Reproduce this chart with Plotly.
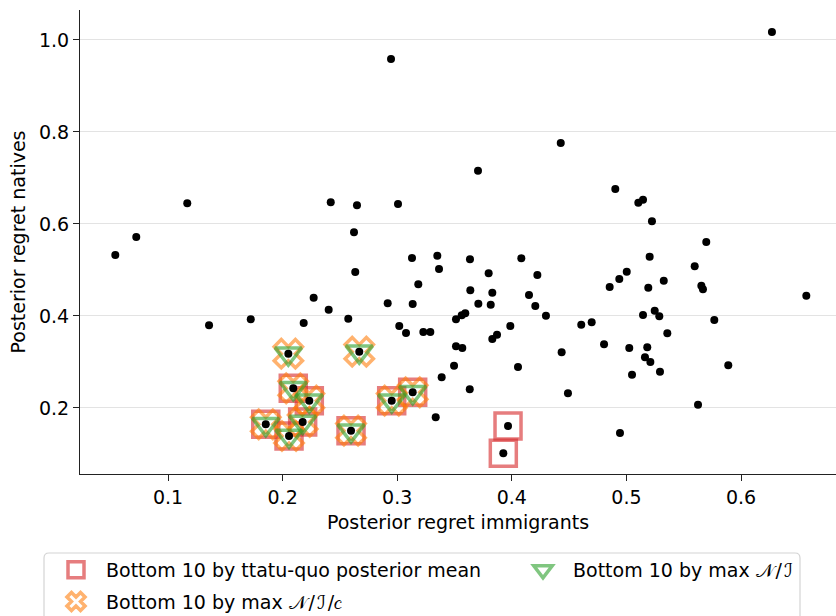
import plotly.graph_objects as go

# All countries: posterior regret for immigrants (x) and natives (y)
x_all = [
    0.0540, 0.0723, 0.1168, 0.1358, 0.1722, 0.2420, 0.2649, 0.3007, 0.2623, 0.3129,
    0.3350, 0.3365, 0.3635, 0.2634, 0.3184, 0.3638, 0.2271, 0.2402, 0.2917, 0.3135,
    0.3708, 0.2184, 0.2573, 0.3018, 0.3077, 0.3228, 0.3289, 0.3513, 0.3563, 0.3594,
    0.3513, 0.3568, 0.3496, 0.3388, 0.3633, 0.3336, 0.6270, 0.2946, 0.4427, 0.3705,
    0.4903, 0.5104, 0.5145, 0.5223, 0.4083, 0.5203, 0.3798, 0.4223, 0.5003, 0.4938,
    0.4854, 0.5191, 0.3830, 0.4150, 0.3816, 0.4205, 0.4298, 0.5145, 0.5247, 0.5287,
    0.3987, 0.3871, 0.3830, 0.4606, 0.4697, 0.4435, 0.4805, 0.5025, 0.5182, 0.5162,
    0.5209, 0.5293, 0.4054, 0.5049, 0.4490, 0.4944, 0.5697, 0.5596, 0.5326, 0.5654,
    0.5668, 0.6570, 0.5767, 0.5357, 0.5889, 0.5625,
    0.2050, 0.2669, 0.2093, 0.2233, 0.1853, 0.2175, 0.2056, 0.2597, 0.2952, 0.3135,
    0.3967, 0.3926,
]
y_all = [
    0.5326, 0.5717, 0.6450, 0.3798, 0.3928, 0.6472, 0.6407, 0.6435, 0.5820, 0.5261,
    0.5311, 0.5022, 0.5233, 0.4957, 0.4689, 0.4559, 0.4398, 0.4137, 0.4276, 0.4261,
    0.4267, 0.3848, 0.3941, 0.3783, 0.3630, 0.3652, 0.3652, 0.3928, 0.4015, 0.4059,
    0.3341, 0.3304, 0.2920, 0.2667, 0.2407, 0.1798, 1.0174, 0.9587, 0.7761, 0.7159,
    0.6761, 0.6463, 0.6528, 0.6059, 0.5254, 0.5289, 0.4928, 0.4891, 0.4963, 0.4804,
    0.4630, 0.4615, 0.4507, 0.4457, 0.4246, 0.4217, 0.4007, 0.4022, 0.4115, 0.3993,
    0.3783, 0.3593, 0.3500, 0.3811, 0.3863, 0.3211, 0.3385, 0.3304, 0.3320, 0.3102,
    0.3000, 0.2789, 0.2891, 0.2724, 0.2320, 0.1457, 0.5609, 0.5080, 0.4767, 0.4659,
    0.4580, 0.4441, 0.3913, 0.3624, 0.2928, 0.2072,
    0.3180, 0.3224, 0.2428, 0.2159, 0.1646, 0.1696, 0.1391, 0.1507, 0.2159, 0.2341,
    0.1609, 0.1015,
]

# Indices (into x_all / y_all) of the three "bottom 10" selections
idx_status_quo = [88, 89, 90, 91, 92, 93, 94, 95, 96, 97]
idx_max_NIc = [86, 87, 88, 89, 90, 91, 92, 93, 94, 95]
idx_max_NI = [86, 87, 88, 89, 90, 91, 92, 93, 94, 95]

legend_labels = [
    "Bottom 10 by ttatu-quo posterior mean",
    "Bottom 10 by max 𝒩\u200a/\u200aℐ\u200a/𝑐",
    "Bottom 10 by max 𝒩\u200a/\u200aℐ",
]

FONT = "DejaVu Sans"
FS = 19

fig = go.Figure()

def pick(idx, arr):
    return [arr[i] for i in idx]

fig.add_trace(go.Scatter(
    x=pick(idx_status_quo, x_all), y=pick(idx_status_quo, y_all), mode="markers",
    name=legend_labels[0], legend="legend", legendgroup="a",
    marker=dict(symbol="square-open", size=26, color="#d62728", opacity=0.6,
                line=dict(width=3.5)),
))
fig.add_trace(go.Scatter(
    x=pick(idx_max_NIc, x_all), y=pick(idx_max_NIc, y_all), mode="markers",
    name=legend_labels[1], legend="legend", legendgroup="b",
    marker=dict(symbol="x-open", size=25, color="#ff7f0e", opacity=0.6,
                line=dict(width=3.5)),
))
fig.add_trace(go.Scatter(
    x=pick(idx_max_NI, x_all), y=pick(idx_max_NI, y_all), mode="markers",
    name=legend_labels[2], legend="legend2",
    marker=dict(symbol="triangle-down-open", size=23, color="#2ca02c", opacity=0.6,
                line=dict(width=3.5)),
))
fig.add_trace(go.Scatter(
    x=x_all, y=y_all, mode="markers", showlegend=False,
    marker=dict(symbol="circle", size=8, color="black"),
))

# legend frame (paper coords; plot area is 756 x 464 px)
px_x = 1 / 756
px_y = 1 / 464
lx0, lx1 = -36 * px_x, 720 * px_x
ly0, ly1 = -79 * px_y, -160 * px_y
rx, ry = 5 * px_x, 5 * px_y
frame_path = (
    f"M {lx0},{ly1} L {lx0},{ly0 - ry} Q {lx0},{ly0} {lx0 + rx},{ly0} "
    f"L {lx1 - rx},{ly0} Q {lx1},{ly0} {lx1},{ly0 - ry} L {lx1},{ly1}"
)

fig.update_layout(
    width=836, height=616,
    margin=dict(l=80, r=0, t=10, b=142, autoexpand=False),
    plot_bgcolor="white", paper_bgcolor="white",
    font=dict(family=FONT, size=FS, color="black"),
    showlegend=True,
    legend=dict(
        orientation="v", x=-34 * px_x, xanchor="left", y=-77 * px_y, yanchor="top",
        borderwidth=0, bgcolor="rgba(0,0,0,0)", tracegroupgap=4,
        font=dict(family=FONT, size=FS, color="black"),
        itemwidth=50,
    ),
    legend2=dict(
        orientation="v", x=433 * px_x, xanchor="left", y=-77 * px_y, yanchor="top",
        borderwidth=0, bgcolor="rgba(0,0,0,0)",
        font=dict(family=FONT, size=FS, color="black"),
        itemwidth=50,
    ),
    shapes=[dict(type="path", xref="paper", yref="paper", path=frame_path,
                 line=dict(color="#d4d4d4", width=1.2))],
)
fig.update_xaxes(
    range=[0.0232, 0.6829], tickvals=[0.1, 0.2, 0.3, 0.4, 0.5, 0.6],
    ticktext=["0.1", "0.2", "0.3", "0.4", "0.5", "0.6"],
    showgrid=False, zeroline=False, showline=True, linecolor="#222", linewidth=1.2,
    ticks="outside", ticklen=6, tickcolor="#222", automargin=False,
    title=dict(text="Posterior regret immigrants", font=dict(size=FS), standoff=8),
)
fig.update_yaxes(
    range=[0.0565, 1.0652], tickvals=[0.2, 0.4, 0.6, 0.8, 1.0],
    ticktext=["0.2", "0.4", "0.6", "0.8", "1.0"],
    showgrid=True, gridcolor="#e3e3e3", gridwidth=1, zeroline=False,
    showline=True, linecolor="#222", linewidth=1.2, automargin=False,
    ticks="outside", ticklen=6, tickcolor="#222",
    title=dict(text="Posterior regret natives", font=dict(size=FS), standoff=8),
)

fig.write_html("out.html")
